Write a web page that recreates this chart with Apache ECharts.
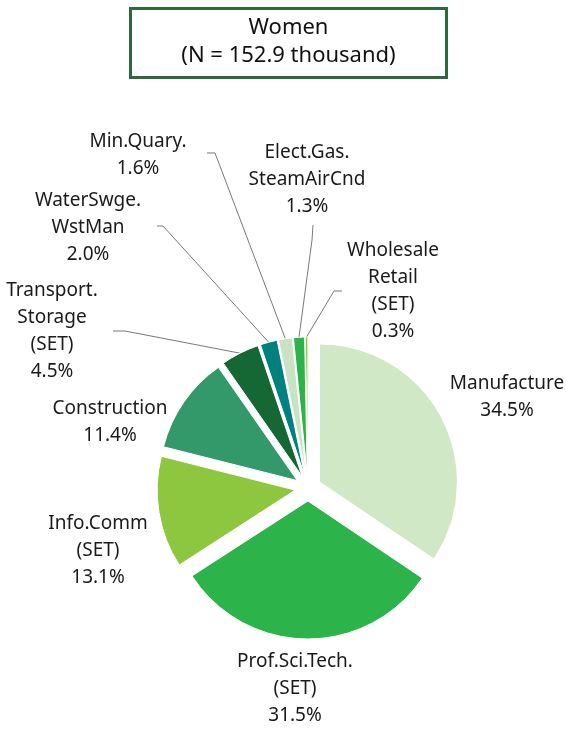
<!DOCTYPE html>
<html>
<head>
<meta charset="utf-8">
<script src="https://cdn.jsdelivr.net/npm/echarts@6/dist/echarts.min.js"></script>
<style>
  html, body { margin: 0; padding: 0; background: #fff; }
  #chart { width: 566px; height: 729px; }
</style>
</head>
<body>
<div id="chart"></div>
<script>
// Industry shares of employed women (%)
const categories = [
  'Manufacture',
  'Prof.Sci.Tech.\n(SET)',
  'Info.Comm\n(SET)',
  'Construction',
  'Transport.\nStorage\n(SET)',
  'WaterSwge.\nWstMan',
  'Min.Quary.',
  'Elect.Gas.\nSteamAirCnd',
  'Wholesale\nRetail\n(SET)'
];
const shares = [34.5, 31.5, 13.1, 11.4, 4.5, 2.0, 1.6, 1.3, 0.3];
const sliceColors = ['#d1e8c6', '#2cb34a', '#8dc63f', '#33996a', '#156834', '#00807f', '#c9e2c3', '#2cb34a', '#8dc63f'];

// Pie geometry and label placement (pixels)
const CX = 308, CY = 488, R = 138, OFFSET = 13;
const labelPos = [
  { x: 507, y: 397 },
  { x: 295, y: 689 },
  { x: 98,  y: 551 },
  { x: 110, y: 422 },
  { x: 52,  y: 331, elbow: [[113, 331], [125, 331]] },
  { x: 88,  y: 228, elbow: [[157, 226], [163, 226]] },
  { x: 138, y: 155, elbow: [[207, 153], [215, 153]] },
  { x: 307, y: 180, elbow: [[313, 225], [312, 240]] },
  { x: 393, y: 291, elbow: [[342, 291], [334, 291]] }
];

const total = shares.reduce((a, b) => a + b, 0);
function midDir(i) {
  let before = 0;
  for (let k = 0; k < i; k++) before += shares[k];
  const a = (before + shares[i] / 2) / total * Math.PI * 2; // clockwise from 12 o'clock
  return [Math.sin(a), -Math.cos(a)];
}

const chart = echarts.init(document.getElementById('chart'), null, { renderer: 'canvas' });
const font = '"Noto Sans", "Open Sans", sans-serif';

chart.setOption({
  animation: false,
  title: {
    text: '{t|Women}\n{t|(N = 152.9 thousand)}',
    left: 130,
    top: 5,
    padding: [9, 0, 11, 0],
    borderColor: '#2b6b3a',
    borderWidth: 3,
    textStyle: {
      fontWeight: 'normal',
      rich: {
        t: {
          fontFamily: font,
          fontSize: 22,
          fontWeight: 'normal',
          lineHeight: 28,
          color: '#111',
          width: 317,
          align: 'center'
        }
      }
    }
  },
  series: [
    // exploded slices
    {
      type: 'pie',
      center: [CX, CY],
      radius: R,
      startAngle: 90,
      clockwise: true,
      selectedMode: 'multiple',
      selectedOffset: OFFSET,
      silent: true,
      itemStyle: { borderColor: '#fff', borderWidth: 1 },
      select: { itemStyle: { borderColor: '#fff', borderWidth: 1 } },
      label: { show: false },
      labelLine: { show: false },
      data: categories.map((name, i) => ({
        name: name,
        value: shares[i],
        selected: true,
        itemStyle: { color: sliceColors[i] }
      }))
    },
    // category labels with leader lines
    {
      type: 'pie',
      center: [CX, CY],
      radius: R + OFFSET,
      startAngle: 90,
      clockwise: true,
      silent: true,
      avoidLabelOverlap: false,
      itemStyle: { color: 'rgba(0,0,0,0)', borderWidth: 0 },
      label: {
        show: true,
        position: 'outside',
        fontFamily: font,
        fontSize: 19,
        lineHeight: 27,
        color: '#1a1a1a',
        align: 'center',
        formatter: p => p.name + '\n' + shares[p.dataIndex].toFixed(1) + '%'
      },
      labelLine: { show: true, lineStyle: { color: '#555', width: 0.8 } },
      labelLayout: params => {
        const i = params.dataIndex;
        const lp = labelPos[i];
        const out = { x: lp.x, y: lp.y, align: 'center', verticalAlign: 'middle' };
        if (lp.elbow) {
          const d = midDir(i);
          const edge = [CX + (R + OFFSET) * d[0], CY + (R + OFFSET) * d[1]];
          out.labelLinePoints = [edge, lp.elbow[1], lp.elbow[0]];
        }
        return out;
      },
      data: categories.map((name, i) => ({
        name: name,
        value: shares[i],
        labelLine: { show: !!labelPos[i].elbow }
      }))
    }
  ]
});
</script>
</body>
</html>
